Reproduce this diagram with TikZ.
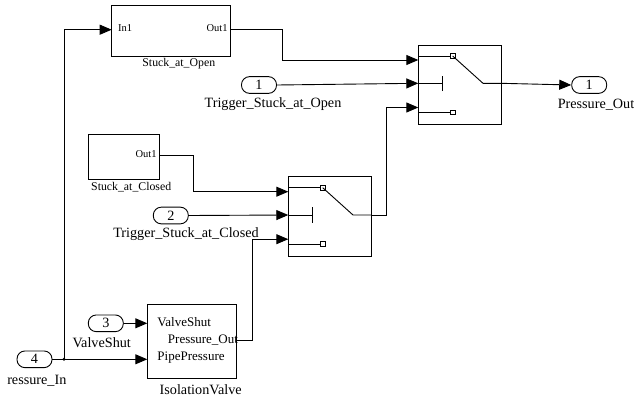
\documentclass[tikz,border=0pt]{standalone}
\usepackage{fontspec}
\setmainfont{Liberation Serif}
\usetikzlibrary{arrows.meta}
\begin{document}
\begin{tikzpicture}[x=1pt,y=-1pt,line width=0.9pt,
  blk/.style={draw,inner sep=0,minimum width=#1},
  port/.style={draw,rounded corners=8pt,inner sep=0,minimum width=35pt,minimum height=16.7pt,
    font=\fontsize{14.2}{16}\selectfont},
  lbl/.style={inner sep=0,font=\fontsize{14.2}{16}\selectfont},
  sml/.style={inner sep=0,font=\fontsize{10.5}{12}\selectfont},
  mid/.style={inner sep=0,font=\fontsize{11.8}{13}\selectfont},
  iso/.style={inner sep=0,font=\fontsize{13}{15}\selectfont},
  arr/.style={-{Triangle[length=12pt,width=10pt]}},
  sq/.style={draw,fill=white,line width=0.7pt,inner sep=0,minimum size=4.6pt}]
\useasboundingbox (0,0) rectangle (634,399);

% subsystem blocks
\node[blk=118.3pt,minimum height=50.3pt] (open) at (170.85,30.85) {};
\node[blk=71pt,minimum height=45pt] (closed) at (123.8,156.5) {};
\node[blk=88.7pt,minimum height=74pt] (isov) at (191.65,341.3) {};

\coordinate (openin) at (111.7,29.7);
\coordinate (openout) at (230,29.7);
\coordinate (closedout) at (159.3,155);
\coordinate (isoa) at (147.3,323.3);
\coordinate (isob) at (147.3,359.3);
\coordinate (isoout) at (236,340);

\node[sml,anchor=west] at (117.7,28.5) {In1};
\node[sml,anchor=east] at (228,28.5) {Out1};
\node[mid] at (178.8,63.5) {Stuck\_at\_Open};
\node[sml,anchor=east] at (157,154) {Out1};
\node[mid] at (131.2,187.5) {Stuck\_at\_Closed};
\node[iso,anchor=west] at (157,322) {ValveShut};
\node[iso,anchor=west] at (167.5,340) {Pressure\_Out};
\node[iso,anchor=west] at (157,357.7) {PipePressure};
\node[lbl] at (200.7,390) {IsolationValve};

% switch blocks
\newcommand\drawswitch[3]{%
  \begin{scope}[shift={(#2,#3)}]
    \node[blk=82.7pt,minimum height=79.3pt] (#1) at (41.35,39.65) {};
    \coordinate (#1a) at (0,15);
    \coordinate (#1b) at (0,38.3);
    \coordinate (#1c) at (0,62.5);
    \coordinate (#1out) at (82.7,38.3);
    \node[sq] (#1top) at (34.4,11) {};
    \node[sq] (#1bot) at (34.4,67.3) {};
    \coordinate (#1pivot) at (64.7,38.3);
    \coordinate (#1bar) at (23.7,38.3);
    \draw (0,11) -- (#1top.west);
    \draw (0,67.3) -- (#1bot.west);
    \draw (#1top.center) -- (#1pivot) -- (#1out);
    \draw (#1b) -- (#1bar);
    \draw ([yshift=-7.7pt]#1bar) -- ([yshift=7.7pt]#1bar);
  \end{scope}}
\drawswitch{swa}{418.3}{45}
\drawswitch{swb}{288.3}{176.7}

% ports
\node[port] (inA) at (259,85) {1};
\node[lbl] at (273,104) {Trigger\_Stuck\_at\_Open};
\node[port] (outA) at (589.2,85) {1};
\node[lbl] at (596,104.5) {Pressure\_Out};
\node[port] (inB) at (170.8,215.5) {2};
\node[lbl] at (186,234) {Trigger\_Stuck\_at\_Closed};
\node[port] (inC) at (105.8,323.3) {3};
\node[lbl] at (101.7,342.5) {ValveShut};
\node[port] (inD) at (34.5,359.3) {4};
\node[lbl,anchor=west] at (6.8,381) {ressure\_In};

% signal lines
\coordinate (tap) at (64,359.3);
\draw[arr] (inD.east) -- (isob);
\fill (tap) circle (1.6pt);
\draw[arr] (tap) |- (openin);
\draw[arr] (inC.east) -- (isoa);
\draw[arr] (openout) -- ++(52,0) |- (swaa);
\draw[arr] (inA.east) -- (swab);
\draw[arr] (swaout) -- (outA.west);
\draw[arr] (closedout) -- ++(34,0) |- (swba);
\draw[arr] (inB.east) -- (swbb);
\draw[arr] (isoout) -- ++(16.3,0) |- (swbc);
\draw[arr] (swbout) -- ++(15.6,0) |- (swac);
\end{tikzpicture}
\end{document}
